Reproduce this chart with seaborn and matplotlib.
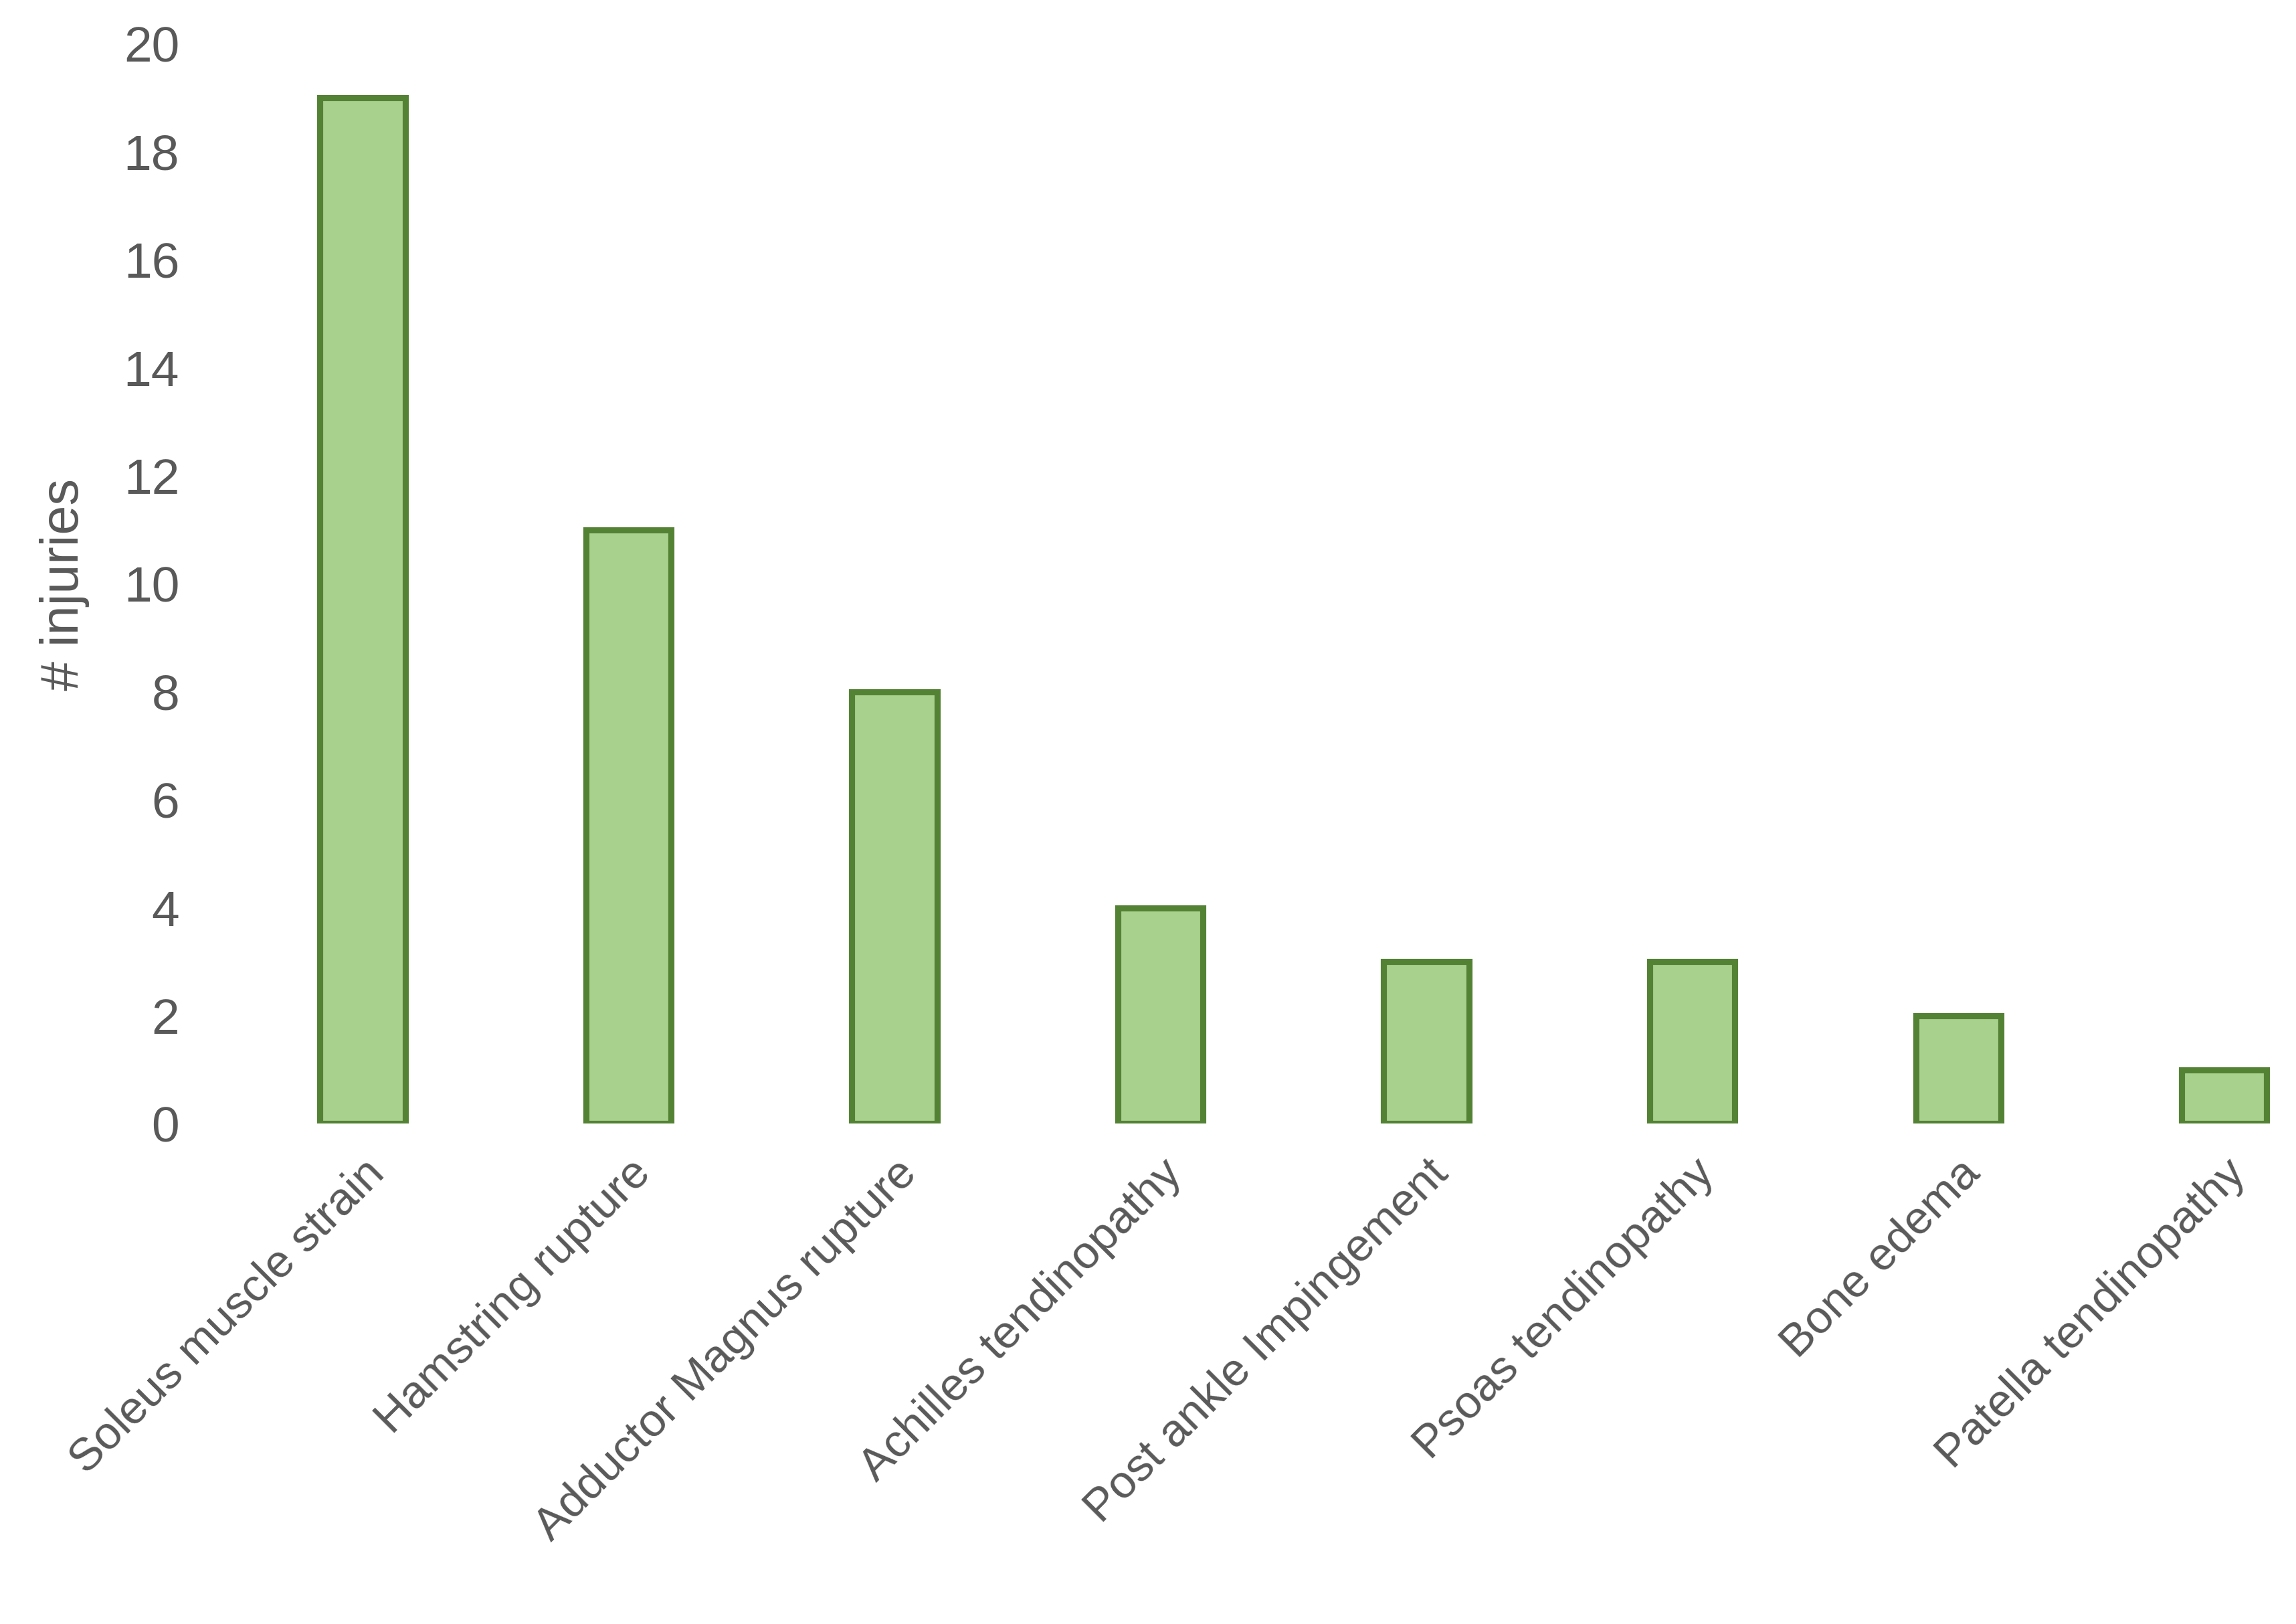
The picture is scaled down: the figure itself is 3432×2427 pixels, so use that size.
import matplotlib
matplotlib.use('Agg')
import matplotlib.pyplot as plt
import seaborn as sns
import pandas as pd

injuries = ['Soleus muscle strain', 'Hamstring rupture', 'Adductor Magnus rupture',
            'Achilles tendinopathy', 'Post ankle Impingement', 'Psoas tendinopathy',
            'Bone edema', 'Patella tendinopathy']
counts = [19, 11, 8, 4, 3, 3, 2, 1]

FILL = '#A9D18E'
EDGE = '#548235'
TEXT = '#595959'

sns.set_style('white')
plt.rcParams['font.family'] = ['Liberation Sans', 'DejaVu Sans']

df = pd.DataFrame({'injury': injuries, 'count': counts})

fig = plt.figure(figsize=(11.44, 8.09), dpi=300)
ax = fig.add_axes([0.100, 0.308, 0.900, 0.665])
sns.barplot(data=df, x='injury', y='count', color=FILL, edgecolor=EDGE,
            linewidth=2.2, width=0.32, saturation=1, ax=ax)

ax.set_ylim(0, 20)
ax.set_xlim(-0.5, 7.27)
ax.set_yticks(range(0, 21, 2))
ax.set_xlabel('')
ax.set_ylabel('')
fig.text(0.028, 0.64, '# injuries', rotation=90, fontsize=19, color=TEXT,
         ha='center', va='center')
ax.tick_params(axis='y', labelsize=18, labelcolor=TEXT, length=0, pad=18)
ax.tick_params(axis='x', labelsize=16.5, labelcolor=TEXT, length=0, pad=10)
plt.setp(ax.get_xticklabels(), rotation=45, ha='right', rotation_mode='anchor')
for s in ax.spines.values():
    s.set_visible(False)

fig.savefig('out.png', dpi=300, facecolor='white')
